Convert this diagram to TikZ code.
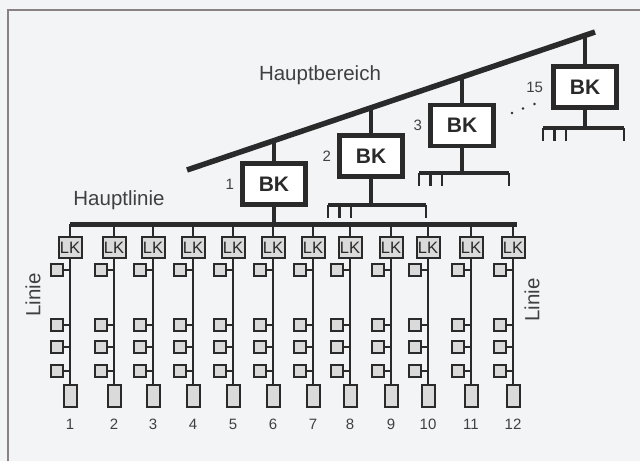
\documentclass[tikz,border=0pt]{standalone}
\usepackage{fontspec}
\setmainfont{Liberation Sans}
\usepackage{tikz}
\usetikzlibrary{positioning,calc}
\definecolor{paper}{HTML}{F3F4F6}
\definecolor{ink}{HTML}{2A2A2A}
\definecolor{boxgray}{HTML}{DADADA}
\definecolor{framegray}{HTML}{8A8282}
\definecolor{labelgray}{HTML}{404040}

\tikzset{
  bkbox/.style={draw=ink, line width=4.5pt, fill=white, minimum width=63pt, minimum height=41pt, inner sep=0pt, font=\fontsize{21}{22}\selectfont\bfseries, text=ink},
  lkbox/.style={draw=ink, line width=2pt, fill=boxgray, minimum width=23pt, minimum height=21pt, inner sep=0pt, font=\fontsize{16.5}{17}\selectfont, text=ink},
  tnbox/.style={draw=ink, line width=2pt, fill=boxgray, minimum width=11.5pt, minimum height=11.5pt, inner sep=0pt},
  endbox/.style={draw=ink, line width=2pt, fill=boxgray, minimum width=13pt, minimum height=22pt, inner sep=0pt},
  bus/.style={draw=ink, line width=4.5pt},
  branch/.style={draw=ink, line width=2.2pt},
  tick/.style={draw=ink, line width=2.5pt},
  biglabel/.style={font=\fontsize{20.5}{22}\selectfont, text=labelgray, inner sep=1pt},
  numlabel/.style={font=\fontsize{15}{16}\selectfont, text=labelgray, inner sep=1pt}
}

\begin{document}
\begin{tikzpicture}[x=1pt, y=-1pt]
% paper and scan frame
\fill[paper] (0,0) rectangle (640,461);
\useasboundingbox (0,0) rectangle (640,461);
\draw[framegray, line width=1.5pt] (8,461) -- (8,10) -- (640,10);

% Hauptbereich
\coordinate (hbL) at (187,170);
\coordinate (hbR) at (595,32);
\draw[bus, line width=5.5pt] (hbL) -- (hbR);
\node[biglabel] (hbtext) at (320,75) {Hauptbereich};

% Bereichskoppler
\node[bkbox] (bk1) at (274,184) {BK};
\node[bkbox] (bk2) at (371,156) {BK};
\node[bkbox] (bk3) at (462,125.5) {BK};
\node[bkbox] (bk15) at (585,87) {BK};
\node[numlabel, left=5pt of bk1] (bn1) {1};
\node[numlabel, left=5pt of bk2] (bn2) {2};
\node[numlabel, left=5pt of bk3] (bn3) {3};
\node[numlabel, left=7pt of bk15] (bn15) {15};
\draw[bus] (intersection of hbL--hbR and bk1.north--bk1.south) -- (bk1.north);
\draw[bus] (intersection of hbL--hbR and bk2.north--bk2.south) -- (bk2.north);
\draw[bus] (intersection of hbL--hbR and bk3.north--bk3.south) -- (bk3.north);
\draw[bus] (intersection of hbL--hbR and bk15.north--bk15.south) -- (bk15.north);
\foreach \p in {(512,113),(523,108.5),(534.5,104)}
  \fill[ink] \p circle (1.3);

% Hauptlinien der anderen Bereiche (angedeutet)
\coordinate (cb2L) at (328,205);  \coordinate (cb2R) at (426,205);
\coordinate (cb3L) at (419,173);  \coordinate (cb3R) at (509,173);
\coordinate (cb15L) at (543,128); \coordinate (cb15R) at (624,128);
\foreach \b in {2,3,15} {
  \draw[bus] (bk\b.south) -- (bk\b.south |- cb\b L);
  \draw[bus] (cb\b L) -- (cb\b R);
  \foreach \dx in {0,11.5,23}
    \draw[tick] ($(cb\b L)+(\dx,0)$) -- ++(0,13);
  \draw[tick] (cb\b R) -- ++(0,13);
}

% Hauptlinie
\coordinate (hlL) at (70,224);
\coordinate (hlR) at (517,224);
\node[biglabel] (hltext) at (119,200) {Hauptlinie};
\draw[bus] (bk1.south) -- (bk1.south |- hlL);
\draw[bus, line width=5pt] (hlL) -- (hlR);

% Linien mit Linienkopplern und Teilnehmern
\foreach \i/\x in {1/70, 2/114, 3/153, 4/193, 5/233, 6/273, 7/313, 8/350, 9/391, 10/428, 11/471, 12/513} {
  \node[lkbox] (lk\i) at (\x,247.5) {LK};
  \node[endbox] (ed\i) at (\x,396) {};
  \node[numlabel] (nr\i) at (\x,424) {\i};
  \draw[branch] (lk\i.north |- hlL) -- (lk\i.north);
  \draw[branch] (lk\i.south) -- (ed\i.north);
  \foreach \y [count=\k] in {270,325,347,371} {
    \node[tnbox] (tn\i-\k) at (\x-13,\y) {};
    \draw[branch] (tn\i-\k.east) -- (tn\i-\k.east -| ed\i.north);
  }
}
\node[biglabel, rotate=90] (lin1) at (33,295) {Linie};
\node[biglabel, rotate=90] (lin2) at (532,300) {Linie};
\end{tikzpicture}
\end{document}
